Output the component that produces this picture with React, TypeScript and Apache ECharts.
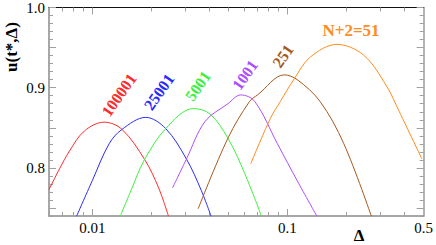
import React, { useEffect, useRef } from "react";
import * as echarts from "echarts";

const FONT = "'Liberation Serif', 'DejaVu Serif', serif";

// axis ranges
const xMin = 0.006;
const xMax = 0.5;
const yMin = 0.74;
const yMax = 1.0;

// tick labels / tick positions
const xLabelValues = [0.01, 0.1, 0.5];
const xMajorTicks = [0.01, 0.1];
const xMinorTicks = [0.006, 0.007, 0.008, 0.009, 0.02, 0.03, 0.04, 0.05, 0.06, 0.07, 0.08, 0.09, 0.2, 0.3, 0.4];
const yLabelValues = [0.8, 0.9, 1.0];
const yMajorTicks = [0.75, 0.8, 0.85, 0.9, 0.95, 1.0];
const yMinorTicks = [0.74, 0.76, 0.77, 0.78, 0.79, 0.81, 0.82, 0.83, 0.84, 0.86, 0.87, 0.88, 0.89, 0.91, 0.92, 0.93, 0.94, 0.96, 0.97, 0.98, 0.99];

// curves (Δ, u)
const curveNames = ["100001", "25001", "5001", "1001", "251", "N+2=51"];
const curveColors = ["#ff2a2a", "#2a2aff", "#3ef03e", "#ad4dff", "#a8581c", "#ff8c1e"];

const delta100001 = [0.006, 0.0068, 0.00764, 0.00911, 0.0115, 0.0142, 0.0186, 0.0219, 0.0246];
const u100001 = [0.773, 0.799, 0.821, 0.846, 0.857, 0.848, 0.81, 0.775, 0.7395];

const delta25001 = [0.0083, 0.01, 0.0122, 0.0142, 0.0188, 0.0238, 0.0304, 0.0362, 0.0407];
const u25001 = [0.7395, 0.784, 0.83, 0.848, 0.863, 0.849, 0.811, 0.772, 0.7395];

const delta5001 = [0.0139, 0.016, 0.0184, 0.0238, 0.033, 0.0402, 0.0496, 0.0605, 0.0738];
const u5001 = [0.7395, 0.775, 0.809, 0.849, 0.874, 0.867, 0.837, 0.793, 0.7395];

const delta1001 = [0.0258, 0.0304, 0.0379, 0.0496, 0.0577, 0.068, 0.089, 0.1124, 0.142];
const u1001 = [0.775, 0.811, 0.858, 0.88, 0.891, 0.883, 0.83, 0.784, 0.7395];

const delta251 = [0.0349, 0.0496, 0.0641, 0.0704, 0.0966, 0.1124, 0.147, 0.195, 0.27];
const u251 = [0.749, 0.837, 0.883, 0.891, 0.916, 0.91, 0.883, 0.83, 0.7395];

const delta51 = [0.0649, 0.082, 0.0922, 0.1085, 0.1309, 0.1794, 0.246, 0.3219, 0.3747, 0.49];
const u51 = [0.805, 0.862, 0.883, 0.911, 0.938, 0.954, 0.9407, 0.9025, 0.8704, 0.8111];

const curveDeltas = [delta100001, delta25001, delta5001, delta1001, delta251, delta51];
const curveUs = [u100001, u25001, u5001, u1001, u251, u51];

// label placement (pixels) and rotation in degrees
const labelPos = [
  [119, 95, 55],
  [159, 92, 55],
  [198, 86, 55],
  [245, 75, 55],
  [283, 56, 55],
  [351, 30, 0],
];

const lg = (v: number) => Math.log10(v);
const fmtX = (v: number) => String(Number(Math.pow(10, v).toPrecision(2)));

function xAxisDef(position: "bottom" | "top", ticks: number[], len: number, withLabels: boolean, lineColor: string | null, lineWidth: number) {
  return {
    type: "value",
    position,
    min: lg(xMin),
    max: lg(xMax),
    splitLine: { show: false },
    axisLine: { show: lineColor !== null, onZero: false, lineStyle: { color: lineColor || "#000", width: lineWidth } },
    axisTick: { show: true, inside: true, length: len, customValues: ticks.map(lg), lineStyle: { color: "#a0a0a0", width: 1 } },
    axisLabel: withLabels
      ? { show: true, customValues: xLabelValues.map(lg), formatter: (v: number) => fmtX(v), margin: 4, fontFamily: FONT, fontSize: 15, color: "#000" }
      : { show: false },
  };
}

function yAxisDef(position: "left" | "right", ticks: number[], len: number, withLabels: boolean, lineColor: string | null, lineWidth: number) {
  return {
    type: "value",
    position,
    min: yMin,
    max: yMax,
    splitLine: { show: false },
    axisLine: { show: lineColor !== null, onZero: false, lineStyle: { color: lineColor || "#000", width: lineWidth } },
    axisTick: { show: true, inside: true, length: len, customValues: ticks, lineStyle: { color: "#a0a0a0", width: 1 } },
    axisLabel: withLabels
      ? { show: true, customValues: yLabelValues, formatter: (v: number) => v.toFixed(1), margin: 4, fontFamily: FONT, fontSize: 15, color: "#000" }
      : { show: false },
  };
}

export default function App() {
  const ref = useRef<HTMLDivElement>(null);
  useEffect(() => {
    document.body.style.margin = "0";
    if (!ref.current) return;
    const chart = echarts.init(ref.current, null, { renderer: "svg" });
    const series = curveNames.map((name, i) => ({
      type: "line",
      name,
      xAxisIndex: 0,
      yAxisIndex: 0,
      data: curveDeltas[i].map((d, j) => [lg(d), curveUs[i][j]]),
      showSymbol: false,
      smooth: 0.35,
      silent: true,
      lineStyle: { color: curveColors[i], width: 1 },
      itemStyle: { color: curveColors[i] },
    }));
    const graphic: any[] = curveNames.map((name, i) => ({
      type: "text",
      x: labelPos[i][0],
      y: labelPos[i][1],
      rotation: (labelPos[i][2] * Math.PI) / 180,
      style: {
        text: name,
        fill: curveColors[i],
        font: `bold ${i === 5 ? 17 : 16}px ${FONT}`,
        textAlign: "center",
        textVerticalAlign: "middle",
      },
    }));
    graphic.push({
      type: "text",
      x: 11,
      y: 47,
      rotation: Math.PI / 2,
      style: { text: "u(t*,Δ)", fill: "#000", font: `bold 17px ${FONT}`, textAlign: "center", textVerticalAlign: "middle" },
    });
    graphic.push({
      type: "text",
      x: 359,
      y: 235,
      style: { text: "Δ", fill: "#000", font: `bold 17px ${FONT}`, textAlign: "center", textVerticalAlign: "middle" },
    });
    chart.setOption({
      animation: false,
      backgroundColor: "#fff",
      grid: { left: 49, top: 5, right: 10, bottom: 29, containLabel: false },
      xAxis: [
        xAxisDef("bottom", xMajorTicks, 7, true, "#8a8a8a", 1.5),
        xAxisDef("bottom", xMinorTicks, 4, false, null, 1),
        xAxisDef("top", xMajorTicks, 7, false, "#111", 1),
        xAxisDef("top", xMinorTicks, 4, false, null, 1),
      ],
      yAxis: [
        yAxisDef("left", yMajorTicks, 7, true, "#8a8a8a", 1.5),
        yAxisDef("left", yMinorTicks, 4, false, null, 1),
        yAxisDef("right", yMajorTicks, 7, false, "#9a9a9a", 1.5),
        yAxisDef("right", yMinorTicks, 4, false, null, 1),
      ],
      series,
      graphic,
    });
    return () => chart.dispose();
  }, []);
  return <div ref={ref} style={{ width: 436, height: 245 }} />;
}
